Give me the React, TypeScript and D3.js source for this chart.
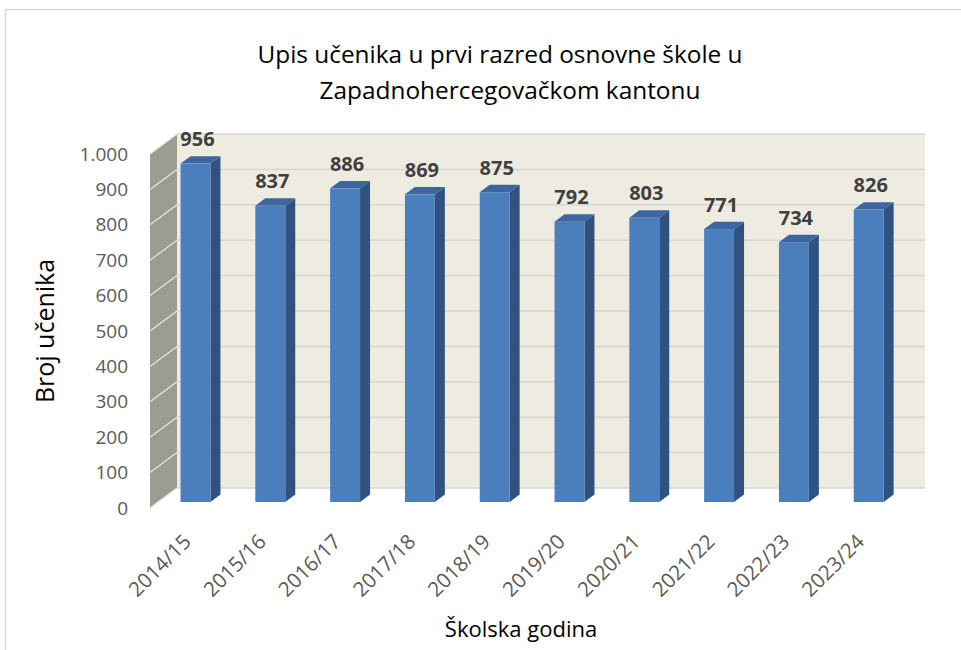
import React from "react";
import * as d3 from "d3";

const categories = ["2014/15","2015/16","2016/17","2017/18","2018/19","2019/20","2020/21","2021/22","2022/23","2023/24"];
const values = [956, 837, 886, 869, 875, 792, 803, 771, 734, 826];
const yTicks = [0,100,200,300,400,500,600,700,800,900,1000];
const tickLabel = (v: number) => (v >= 1000 ? d3.format(",")(v).replace(",", ".") : String(v));
const titleLines = ["Upis učenika u prvi razred osnovne škole u", "Zapadnohercegovačkom kantonu"];
const yTitle = "Broj učenika";
const xTitle = "Školska godina";

const FONT = "'Open Sans', Lato, sans-serif";

export default function App() {
  // front plane
  const x = d3.scaleBand<string>().domain(categories).range([150, 898]).paddingInner(0.6).paddingOuter(0.3);
  const y = d3.scaleLinear().domain([0, 1000]).range([508, 154]);
  const D = { dx: 27, dy: -20 }; // full depth
  const barPos = 0.3; // bar front at 30% depth
  const barDepth = 0.37;
  const bx = D.dx * barPos, by = D.dy * barPos;
  const ddx = D.dx * barDepth, ddy = D.dy * barDepth;
  const x0 = 150, x1 = 898;
  const bw = x.bandwidth();

  return (
    <svg width={961} height={650} style={{ position: "absolute", left: 0, top: 0, background: "#fff" }} fontFamily={FONT}>
      <rect x={5.5} y={9.5} width={1000} height={700} fill="#fff" stroke="#d9d9d9" strokeWidth={1.5} />
      {/* title */}
      <text x={500} y={63} textAnchor="middle" fontSize={24.4} fill="#000">{titleLines[0]}</text>
      <text x={510} y={99} textAnchor="middle" fontSize={24.4} fill="#000">{titleLines[1]}</text>
      {/* back wall */}
      <rect x={x0 + D.dx} y={y(1000) + D.dy} width={x1 - x0} height={y(0) - y(1000)} fill="#eeece1" />
      {/* side wall */}
      <polygon
        points={`${x0},${y(0)} ${x0},${y(1000)} ${x0 + D.dx},${y(1000) + D.dy} ${x0 + D.dx},${y(0) + D.dy}`}
        fill="#9d9c91"
      />
      {yTicks.map((v) => (
        <g key={v}>
          <line x1={x0 + D.dx} x2={x1 + D.dx} y1={y(v) + D.dy} y2={y(v) + D.dy} stroke="#d6d6d2" strokeWidth={1.5} />
          <line x1={x0} x2={x0 + D.dx} y1={y(v)} y2={y(v) + D.dy} stroke="#e8e8e2" strokeWidth={1.2} />
          <text x={128} y={y(v)} dy="0.35em" textAnchor="end" fontSize={19} fill="#595959">{tickLabel(v)}</text>
        </g>
      ))}
      {/* bars */}
      {categories.map((c, i) => {
        const v = values[i];
        const l = (x(c) as number) + bx;
        const r = l + bw;
        const t = y(v) + by;
        const b = y(0) + by;
        return (
          <g key={c}>
            <polygon points={`${r},${b} ${r},${t} ${r + ddx},${t + ddy} ${r + ddx},${b + ddy}`} fill="#2f5280" />
            <polygon points={`${l},${t} ${r},${t} ${r + ddx},${t + ddy} ${l + ddx},${t + ddy}`} fill="#3b66a2" />
            <rect x={l} y={t} width={bw} height={b - t} fill="#4a7ebc" />
            <text x={l + bw / 2 + 2} y={t + ddy - 10} textAnchor="middle" fontSize={20} fontWeight="bold" fill="#404040">{v}</text>
          </g>
        );
      })}
      {/* x labels */}
      {categories.map((c) => {
        const cx = (x(c) as number) + bw / 2 + 5;
        const cy = 543;
        return (
          <text key={c} x={cx} y={cy} textAnchor="end" fontSize={20.5} fill="#595959" transform={`rotate(-45 ${cx} ${cy})`}>{c}</text>
        );
      })}
      <text x={45} y={331} textAnchor="middle" fontSize={25} fill="#000" transform="rotate(-90 45 331)" dy="0.35em">{yTitle}</text>
      <text x={521} y={637} textAnchor="middle" fontSize={22} fill="#000">{xTitle}</text>
    </svg>
  );
}
